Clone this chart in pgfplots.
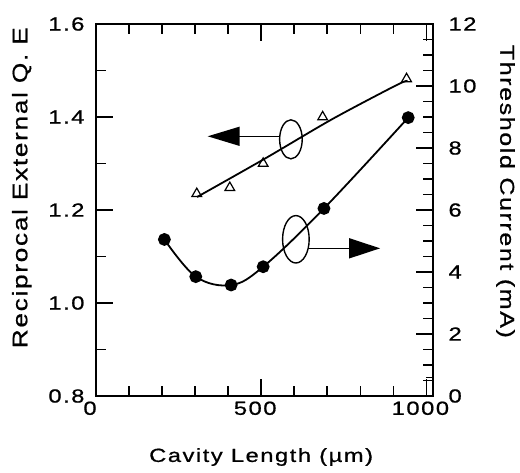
\documentclass[border=0pt]{standalone}
\usepackage{fontspec}
\setmainfont{Liberation Sans}[FakeStretch=1.25,LetterSpace=8,FakeBold=0.8]
\usepackage{pgfplots}
\pgfplotsset{compat=1.18}
\usetikzlibrary{arrows.meta}

% triangles: reciprocal external QE (left axis)
\pgfplotstableread{
x y
305 1.235
405 1.248
506 1.300
686 1.400
940 1.482
}\qetable
% fitted line through the triangles
\pgfplotstableread{
x y
306 1.228
510 1.310
714 1.395
908 1.468
943 1.478
}\qefit
% circles: threshold current (right axis)
\pgfplotstableread{
x y
207 5.05
302 3.85
409 3.58
506 4.17
690 6.05
945 8.98
}\ithtable

\pgfplotsset{
  every axis/.append style={
    at={(0pt,0pt)}, anchor=south west,
    scale only axis, width=337pt, height=372pt,
    xmin=0, xmax=1020,
    tick align=inside,
    major tick length=17pt, minor tick length=10pt,
    axis line style={line width=2pt},
    tick style={line width=1.6pt, black},
    tick label style={font=\fontsize{19}{22}\selectfont},
    label style={font=\fontsize{19}{22}\selectfont},
    /pgf/number format/assume math mode=true,
    /pgf/number format/set thousands separator={},
  }
}

\begin{document}
\begin{tikzpicture}
\useasboundingbox (-96pt,-76pt) rectangle (424pt,396pt);

\begin{axis}[
  ymin=0.8, ymax=1.6,
  xtick={0,500,1000}, minor x tick num=4,
  ytick={0.8,1.0,...,1.6}, minor y tick num=1,
  ytick pos=left, xtick pos=both,
  yticklabel style={/pgf/number format/fixed, /pgf/number format/fixed zerofill, /pgf/number format/precision=1, xshift=-8pt},
  xticklabel style={yshift=-2pt, xshift=-6pt},
  xlabel={Cavity Length (µm)},
  ylabel={Reciprocal External Q. E},
  xlabel style={at={(axis description cs:0.49,0)}, anchor=center, yshift=-61pt},
  ylabel style={at={(axis description cs:-0.22,0.56)}, anchor=center, font=\fontsize{21}{24}\selectfont},
]
\addplot[black, line width=1.8pt, smooth] table[x=x, y=y] {\qefit};
\addplot[only marks, mark=triangle, mark size=5.6pt, mark options={fill=white, line width=1.2pt}, black] table[x=x, y=y] {\qetable};

% annotations
\draw[line width=1.4pt] (axis cs:590,1.352) ellipse [x radius=11.3pt, y radius=19.5pt];
\draw[line width=1.4pt, -{Triangle[length=32pt,width=19pt]}] (axis cs:557,1.3585) -- (axis cs:338,1.3585);
\draw[line width=1.4pt] (axis cs:605,1.137) ellipse [x radius=13.3pt, y radius=23.7pt];
\draw[line width=1.4pt, -{Triangle[length=31pt,width=20pt]}] (axis cs:646,1.1176) -- (axis cs:860,1.1176);
% corner boxes
\draw[line width=1.2pt] (axis cs:1000,1.566) -- (axis cs:1020,1.566);
\draw[line width=1.2pt] (axis cs:1000,0.839) -- (axis cs:1020,0.839);
\end{axis}

\begin{axis}[
  ymin=0, ymax=12,
  hide x axis,
  axis y line*=right,
  ytick={0,2,...,12}, minor y tick num=3,
  yticklabel style={xshift=12pt},
  ylabel={Threshold Current (mA)},
  ylabel style={at={(axis description cs:1.215,0.55)}, anchor=center, rotate=180, font=\fontsize{20}{23}\selectfont},
]
\addplot[black, line width=1.8pt, smooth, tension=0.6, mark=*, mark size=5.5pt] table[x=x, y=y] {\ithtable};
\end{axis}
\end{tikzpicture}
\end{document}
